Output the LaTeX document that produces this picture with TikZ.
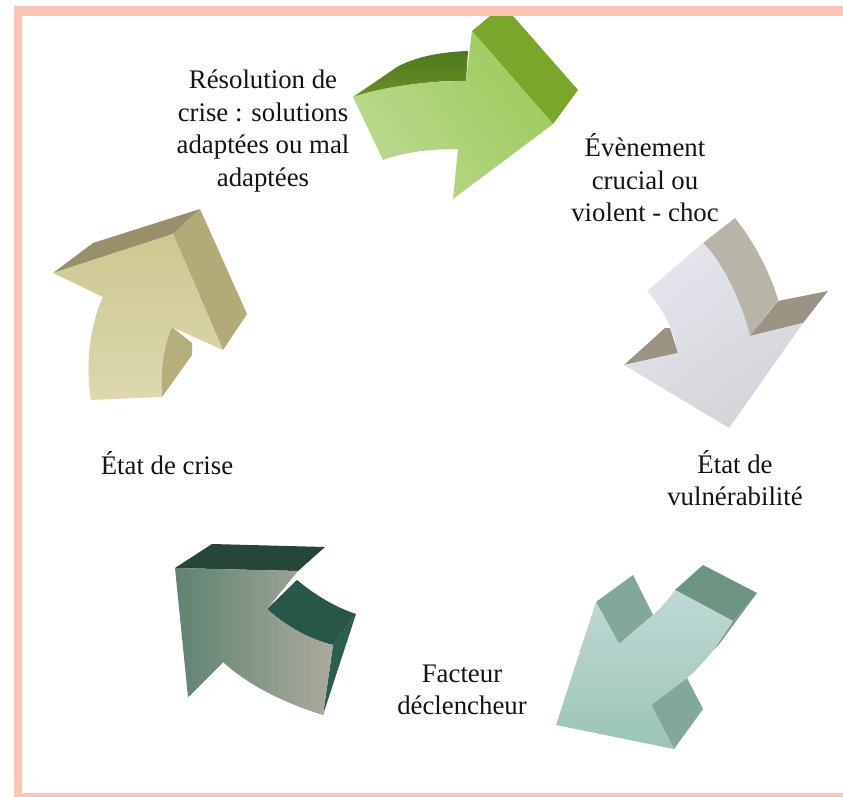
\documentclass[tikz,border=0pt]{standalone}
\usepackage{fontspec}
\setmainfont{Liberation Serif}
\definecolor{bordercol}{HTML}{FFC4B4}
\definecolor{textcol}{HTML}{101418}
\definecolor{gA}{HTML}{4D7A1A}\definecolor{gB}{HTML}{6B8F2A}\definecolor{gC}{HTML}{7AA62C}
\definecolor{gD}{HTML}{9DCB5C}\definecolor{gE}{HTML}{BAD98F}
\definecolor{wA}{HTML}{B9B4A8}\definecolor{wB}{HTML}{9B9383}\definecolor{wC}{HTML}{E5E5EE}\definecolor{wD}{HTML}{D3D3D8}
\definecolor{tA}{HTML}{6D9382}\definecolor{tB}{HTML}{7C9E90}\definecolor{tC}{HTML}{81A89A}\definecolor{tD}{HTML}{C0D9D5}\definecolor{tE}{HTML}{9BC4B7}
\definecolor{dA}{HTML}{26463A}\definecolor{dB}{HTML}{28574A}\definecolor{dC}{HTML}{2A5F50}\definecolor{dD}{HTML}{5F8372}\definecolor{dE}{HTML}{ABAB9C}
\definecolor{nA}{HTML}{97906A}\definecolor{nB}{HTML}{B2AB78}\definecolor{nC}{HTML}{B5AF7B}\definecolor{nD}{HTML}{CDC791}\definecolor{nE}{HTML}{DDD8AE}
\tikzset{
  grad/.style n args={3}{top color=#1,bottom color=#2,shading angle=#3,draw=none},
  flat/.style={fill=#1,draw=none},
  labeltext/.style={text=textcol,align=center,inner sep=0pt,font=\fontsize{26.8}{32.5}\selectfont}
}
\begin{document}
\begin{tikzpicture}[x=1pt,y=-1pt]
\useasboundingbox (0,0) rectangle (843,797);
\fill[white] (0,0) rectangle (843,797);

% green arrow
\shade[grad={gA}{gB}{0}] (353,97) -- (397,67) .. controls (415,57) and (440,52) .. (468,51) -- (466,81) .. controls (430,80) and (380,88) .. cycle;
\fill[flat=gC] (472,31) -- (490,16) -- (513,16) -- (578,90) -- (553,124) -- cycle;
\shade[grad={gD}{gE}{305}] (353,97) .. controls (380,88) and (420,81) .. (466,81) -- (472,31) -- (553,124) -- (453,199) -- (458,149) .. controls (430,149) and (405,152) .. (383,160) -- cycle;

% white arrow
\fill[flat=wA] (703,243) -- (735,218) .. controls (755,243) and (771,275) .. (778,300) -- (750,336) .. controls (742,305) and (725,265) .. cycle;
\fill[flat=wB] (750,336) -- (778,301) -- (828,291) -- (803,323) -- cycle;
\fill[flat=wB] (624,365) -- (665,328) -- (670,328) -- (678,353) -- cycle;
\shade[grad={wC}{wD}{35}] (647,291) -- (703,243) .. controls (725,265) and (742,305) .. (750,336) -- (803,323) -- (729,428) -- (624,365) -- (678,353) .. controls (675,335) and (665,310) .. cycle;

% teal arrow
\fill[flat=tA] (675,590) -- (703,565) -- (757,593) -- (733,621) -- cycle;
\fill[flat=tB] (733,621) -- (757,593) -- (720,643) -- (687,678) -- cycle;
\fill[flat=tC] (596,602) -- (633,575) -- (653,615) -- (619,644) -- cycle;
\fill[flat=tC] (687,678) -- (703,709) -- (674,749) -- (651,705) -- cycle;
\shade[grad={tD}{tE}{0}] (675,590) -- (733,621) .. controls (718,645) and (703,665) .. (687,678) -- (651,705) -- (674,749) -- (556,725) -- (596,602) -- (619,644) -- (653,615) .. controls (662,607) and (668,600) .. cycle;

% dark arrow
\fill[flat=dA] (175,568) -- (212,544) -- (325,547) -- (298,571) -- cycle;
\fill[flat=dB] (267,609) -- (297,580) .. controls (315,595) and (335,607) .. (356,614) -- (333,645) .. controls (312,640) and (288,628) .. cycle;
\fill[flat=dC] (333,645) -- (356,614) -- (323,715) -- cycle;
\fill[flat=dC] (188,697) -- (219,660) -- (223,662) -- cycle;
\shade[grad={dD}{dE}{90}] (175,568) -- (298,571) -- (267,609) .. controls (288,628) and (312,640) .. (333,645) -- (323,715) .. controls (290,705) and (250,687) .. (223,662) -- (188,697) -- cycle;

% tan arrow
\fill[flat=nA] (53,273) -- (93,243) -- (200,209) -- (173,234) -- cycle;
\fill[flat=nB] (173,234) -- (200,209) -- (247,314) -- (223,350) -- cycle;
\fill[flat=nC] (172,327) -- (192,343) -- (192,355) -- (162,397) .. controls (160,375) and (163,345) .. cycle;
\shade[grad={nD}{nE}{0}] (53,273) -- (173,234) -- (223,350) -- (172,327) .. controls (163,345) and (160,375) .. (162,397) -- (91,400) .. controls (85,365) and (90,325) .. (103,297) -- cycle;

% frame (drawn over the green arrow)
\fill[bordercol] (14,6) rectangle (843,16);
\fill[bordercol] (14,6) rectangle (22,797);
\fill[bordercol] (14,793) rectangle (843,797);

% labels
\node[labeltext] (resolution) at (263,131) {Résolution de\\crise : solutions\\adaptées ou mal\\adaptées};
\node[labeltext] (evenement) at (645,178) {Évènement\\crucial ou\\violent - choc};
\node[labeltext] (vulnerabilite) at (735,478) {État de\\vulnérabilité};
\node[labeltext] (crise) at (167,463) {État de crise};
\node[labeltext] (facteur) at (462,690) {Facteur\\déclencheur};
\end{tikzpicture}
\end{document}
